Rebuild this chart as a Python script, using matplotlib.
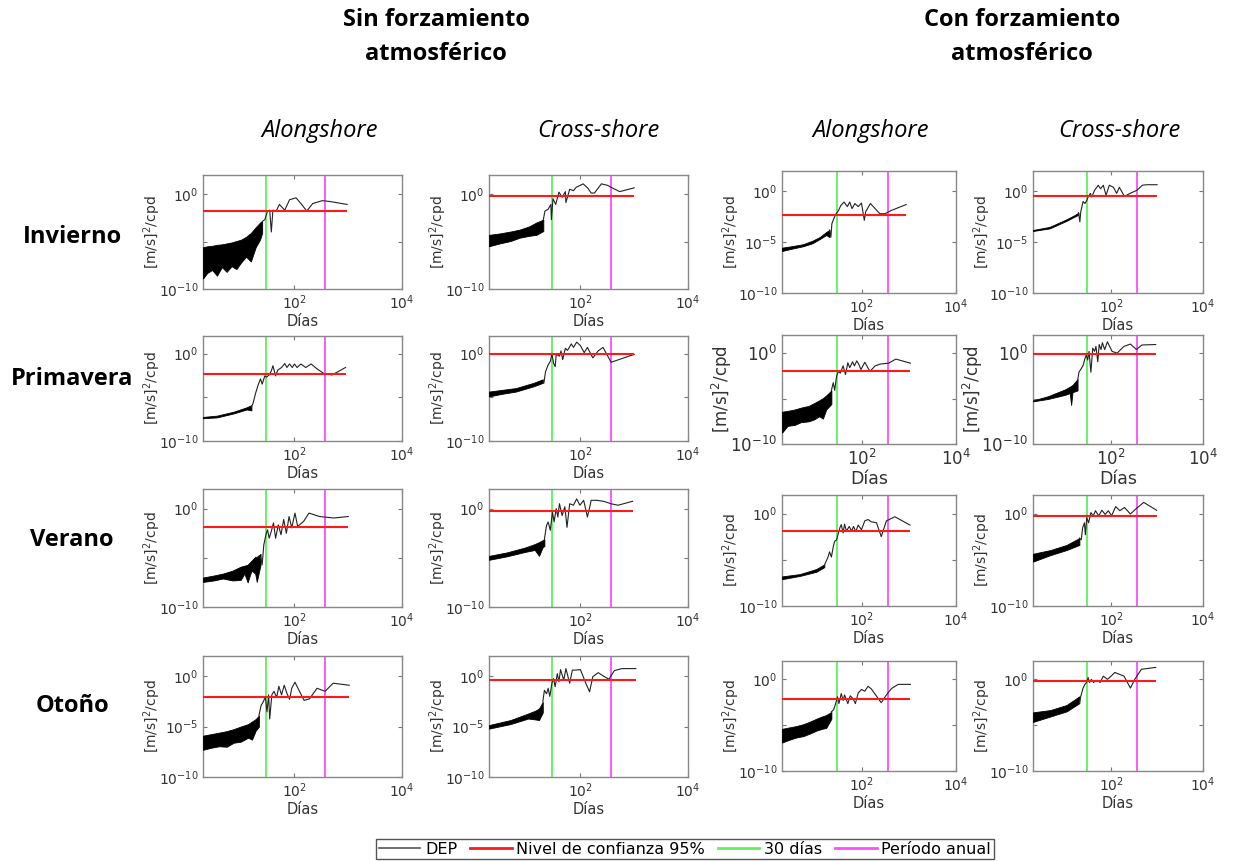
import numpy as np
import matplotlib.pyplot as plt
from matplotlib.lines import Line2D
from matplotlib.ticker import NullLocator

plt.rcParams['font.family'] = ['DejaVu Sans']

# Spectra, all values are log10.
# band_* = [log10(period), upper, lower] of the dense short-period band
# line_* = [log10(period), log10(PSD)] of the long-period part
# panel naming: row (1 Invierno .. 4 Otono), col (1,2 sin forzamiento; 3,4 con)

band_11 = [[0.30, 0.38, 0.47, 0.56, 0.65, 0.74, 0.83, 0.92, 1.01, 1.10, 1.19, 1.28, 1.36, 1.40],
           [-5.6, -5.5, -5.45, -5.35, -5.3, -5.2, -5.1, -4.95, -4.8, -4.5, -4.1, -3.5, -3.0, -2.9],
           [-8.9, -8.3, -8.0, -8.6, -7.7, -8.2, -7.6, -7.9, -7.2, -6.6, -7.1, -5.6, -4.8, -4.1]]
line_11 = [[1.40, 1.45, 1.50, 1.54, 1.57, 1.60, 1.66, 1.72, 1.82, 1.91, 2.03, 2.12, 2.23, 2.34, 2.52, 2.67, 2.98],
           [-2.9, -2.7, -1.8, -1.7, -4.0, -1.7, -1.8, -1.1, -1.7, -0.6, -0.4, -1.0, -1.8, -1.0, -0.7, -0.8, -1.1]]

band_12 = [[0.30, 0.50, 0.70, 0.87, 1.05, 1.18, 1.31],
           [-4.3, -4.15, -3.95, -3.75, -3.4, -3.0, -2.7],
           [-5.5, -5.2, -4.95, -4.6, -4.4, -4.3, -3.9]]
line_12 = [[1.31, 1.34, 1.40, 1.45, 1.46, 1.49, 1.54, 1.60, 1.66, 1.72, 1.73, 1.80, 1.87, 1.92, 2.05, 2.14, 2.20,
            2.26, 2.39, 2.51, 2.57, 2.73, 3.0],
           [-2.7, -1.8, -1.6, -1.1, -2.7, -0.5, -1.1, 0.2, -0.35, 0.25, -0.9, 0.5, 0.35, 0.7, 1.07, 0.6, 0.1,
            0.1, 1.07, 0.9, 0.7, 0.25, 0.65]]

band_13 = [[0.30, 0.50, 0.75, 0.95, 1.10, 1.24, 1.31],
           [-5.54, -5.4, -5.2, -4.85, -4.5, -4.0, -3.8],
           [-5.87, -5.65, -5.4, -5.1, -4.7, -4.3, -4.5]]
line_13 = [[1.31, 1.34, 1.36, 1.40, 1.45, 1.50, 1.55, 1.62, 1.69, 1.74, 1.79, 1.85, 1.92, 1.99, 2.05, 2.08, 2.18,
            2.28, 2.38, 2.49, 2.63, 2.94],
           [-3.8, -4.5, -3.2, -2.7, -2.2, -1.9, -1.4, -1.05, -1.5, -1.05, -1.7, -1.2, -1.5, -1.15, -2.85, -2.0, -1.2,
            -1.7, -2.2, -2.2, -1.87, -1.3]]

band_14 = [[0.30, 0.66, 1.03, 1.20, 1.29],
           [-3.8, -3.5, -2.75, -2.35, -2.1],
           [-3.9, -3.65, -2.9, -2.5, -2.3]]
line_14 = [[1.29, 1.32, 1.34, 1.39, 1.43, 1.47, 1.50, 1.55, 1.58, 1.64, 1.72, 1.77, 1.83, 1.89, 1.96, 2.05, 2.12,
            2.18, 2.29, 2.39, 2.56, 2.68, 2.78, 3.0],
           [-2.1, -3.0, -2.0, -1.0, -1.2, -0.9, -0.55, -0.2, -0.55, 0.1, 0.6, 0.25, 0.6, -0.4, 0.6, 0.4, -0.2,
            0.4, -0.5, -0.25, 0.1, 0.6, 0.65, 0.65]]

band_21 = [[0.30, 0.56, 0.87, 1.11, 1.20],
           [-7.25, -7.1, -6.65, -6.15, -5.9],
           [-7.4, -7.3, -6.85, -6.4, -6.5]]
line_21 = [[1.20, 1.23, 1.28, 1.33, 1.37, 1.40, 1.45, 1.48, 1.53, 1.57, 1.60, 1.65, 1.69, 1.76, 1.82, 1.86, 1.91,
            1.96, 2.0, 2.05, 2.12, 2.21, 2.31, 2.43, 2.55, 2.70, 2.95],
           [-6.1, -5.7, -4.5, -3.5, -2.9, -3.5, -2.55, -2.7, -2.45, -2.0, -1.4, -2.55, -1.9, -1.6, -1.15, -1.6, -1.2,
            -1.6, -1.2, -1.6, -1.2, -1.6, -1.2, -1.8, -2.3, -2.45, -1.6]]

band_22 = [[0.30, 0.55, 0.80, 1.13, 1.30],
           [-4.35, -4.15, -3.95, -3.35, -2.95],
           [-4.9, -4.6, -4.35, -3.75, -3.35]]
line_22 = [[1.30, 1.32, 1.35, 1.40, 1.44, 1.47, 1.50, 1.53, 1.55, 1.61, 1.64, 1.67, 1.72, 1.76, 1.83, 1.87, 1.93,
            2.0, 2.07, 2.13, 2.23, 2.33, 2.42, 2.57, 3.0],
           [-3.35, -3.4, -2.1, -1.3, -0.9, -0.05, -1.1, -1.5, -0.1, -0.3, 0.3, -0.7, 0.6, 0.35, 1.1, 0.7, 1.3,
            0.9, 0.1, 0.7, -0.5, 0.3, 0.7, -1.0, -0.1]]

band_23 = [[0.30, 0.42, 0.57, 0.70, 0.87, 0.98, 1.09, 1.17, 1.24, 1.35],
           [-6.45, -6.35, -6.2, -6.0, -5.8, -5.5, -5.2, -4.95, -4.65, -4.1],
           [-8.75, -8.0, -7.9, -7.6, -7.5, -7.3, -6.95, -7.2, -6.2, -5.6]]
line_23 = [[1.35, 1.39, 1.42, 1.46, 1.50, 1.54, 1.60, 1.65, 1.70, 1.74, 1.80, 1.84, 1.89, 1.93, 1.98, 2.06, 2.17,
            2.28, 2.39, 2.57, 2.72, 3.03],
           [-4.1, -3.25, -4.1, -2.55, -2.0, -2.2, -1.4, -2.35, -1.05, -1.6, -0.95, -1.4, -0.85, -1.2, -1.8, -1.0, -2.0,
            -1.4, -1.2, -1.1, -0.65, -1.1]]

band_24 = [[0.30, 0.62, 0.99, 1.10, 1.13, 1.16, 1.27],
           [-5.2, -4.75, -4.0, -3.7, -3.6, -3.5, -2.85],
           [-5.3, -5.05, -4.6, -4.4, -5.7, -4.3, -4.1]]
line_24 = [[1.27, 1.30, 1.35, 1.39, 1.43, 1.46, 1.49, 1.52, 1.56, 1.60, 1.64, 1.67, 1.71, 1.74, 1.78, 1.81, 1.86,
            1.92, 2.02, 2.13, 2.28, 2.42, 2.55, 2.67, 2.97],
           [-3.05, -2.1, -1.7, -1.35, -0.6, -0.2, -0.75, 0.2, -2.1, 0.55, 0.2, 0.75, -0.95, 0.95, 0.4, 1.15, 0.4,
            1.25, 0.2, 0.0, 0.75, 1.0, 0.4, 0.9, 0.95]]

band_31 = [[0.30, 0.50, 0.67, 0.85, 1.00, 1.07, 1.13, 1.20, 1.27, 1.30, 1.37],
           [-7.0, -6.8, -6.6, -6.3, -5.9, -5.8, -5.7, -5.3, -4.9, -4.9, -4.6],
           [-7.45, -7.3, -7.1, -7.3, -7.25, -6.6, -7.5, -6.3, -6.6, -7.45, -5.7]]
line_31 = [[1.37, 1.40, 1.43, 1.47, 1.50, 1.53, 1.57, 1.61, 1.65, 1.70, 1.75, 1.80, 1.85, 1.90, 1.95, 2.01, 2.06,
            2.17, 2.27, 2.47, 2.73, 3.0],
           [-4.9, -5.7, -3.7, -2.65, -2.15, -3.0, -2.3, -1.45, -3.0, -1.65, -2.65, -1.1, -2.5, -0.8, -1.95, -0.45, -1.8,
            -1.3, -0.45, -0.8, -0.95, -0.8]]

band_32 = [[0.30, 0.63, 0.97, 1.15, 1.23, 1.30, 1.33],
           [-4.8, -4.45, -3.95, -3.6, -3.4, -3.2, -3.1],
           [-5.2, -4.85, -4.4, -4.2, -4.8, -3.9, -3.8]]
line_32 = [[1.33, 1.37, 1.40, 1.44, 1.48, 1.51, 1.55, 1.58, 1.61, 1.66, 1.71, 1.75, 1.80, 1.87, 1.93, 1.99, 2.06,
            2.13, 2.20, 2.30, 2.43, 2.57, 2.70, 2.97],
           [-3.1, -1.7, -1.35, -2.2, -0.35, -1.35, 0.0, -0.85, 0.5, -0.7, 0.2, -1.9, 0.5, 0.35, 1.0, 0.35, 0.85,
            -0.85, 0.85, 0.85, 0.75, 0.5, 0.35, 0.75]]

band_33 = [[0.30, 0.68, 1.03, 1.20],
           [-6.8, -6.55, -6.0, -5.5],
           [-7.1, -6.75, -6.3, -5.8]]
line_33 = [[1.20, 1.28, 1.31, 1.35, 1.39, 1.42, 1.46, 1.49, 1.53, 1.56, 1.60, 1.63, 1.67, 1.73, 1.78, 1.82, 1.87,
            1.92, 1.99, 2.06, 2.13, 2.20, 2.31, 2.41, 2.52, 2.70, 3.02],
           [-5.6, -4.7, -4.15, -4.7, -3.6, -3.0, -2.85, -2.3, -1.55, -1.2, -2.1, -1.15, -1.9, -1.4, -1.9, -1.4, -1.95,
            -1.25, -1.75, -0.8, -0.65, -0.9, -1.0, -2.5, -0.8, -0.35, -1.25]]

band_34 = [[0.30, 0.68, 1.03, 1.31],
           [-4.35, -3.95, -3.4, -2.65],
           [-5.2, -4.5, -3.95, -3.4]]
line_34 = [[1.31, 1.35, 1.38, 1.42, 1.44, 1.47, 1.51, 1.56, 1.61, 1.66, 1.73, 1.80, 1.87, 1.94, 2.01, 2.10, 2.19,
            2.29, 2.42, 2.54, 2.71, 2.99],
           [-2.65, -2.85, -1.55, -1.0, -2.3, -0.45, -1.0, 0.1, -0.25, 0.3, -0.25, 0.35, -0.1, 0.3, -0.25, 0.75, 0.3,
            0.65, -0.05, 0.5, 1.2, 0.35]]

band_41 = [[0.30, 0.45, 0.60, 0.74, 0.87, 1.00, 1.14, 1.21, 1.28, 1.34],
           [-5.9, -5.75, -5.6, -5.45, -5.25, -5.0, -4.75, -4.5, -4.25, -3.9],
           [-7.3, -7.1, -6.95, -7.0, -6.6, -6.5, -6.1, -6.3, -5.4, -5.0]]
line_41 = [[1.34, 1.38, 1.42, 1.46, 1.49, 1.52, 1.54, 1.58, 1.62, 1.67, 1.71, 1.76, 1.81, 1.86, 1.91, 1.95, 2.01,
            2.08, 2.18, 2.28, 2.42, 2.57, 2.72, 3.02],
           [-3.9, -2.9, -2.55, -2.05, -3.55, -1.85, -4.25, -1.85, -1.5, -2.1, -1.0, -1.85, -0.9, -1.7, -2.3, -1.2, -0.6,
            -1.35, -2.4, -2.25, -1.2, -1.5, -0.7, -0.9]]

band_42 = [[0.30, 0.70, 1.03, 1.17, 1.23, 1.30],
           [-4.85, -4.35, -3.7, -3.4, -3.2, -2.55],
           [-5.2, -4.75, -4.2, -4.3, -4.35, -3.6]]
line_42 = [[1.30, 1.33, 1.37, 1.40, 1.43, 1.47, 1.50, 1.53, 1.57, 1.60, 1.63, 1.69, 1.73, 1.80, 1.85, 1.91, 2.00,
            2.10, 2.17, 2.23, 2.33, 2.43, 2.53, 2.63, 2.77, 3.03],
           [-2.55, -1.4, -1.75, -1.2, -2.0, -0.7, -0.25, -1.05, 0.25, -0.55, 0.65, -0.4, 0.75, -0.7, 0.6, 0.6, 0.65,
            -0.7, -1.55, -0.05, 0.35, 0.0, -0.3, 0.55, 0.75, 0.75]]

band_43 = [[0.30, 0.45, 0.60, 0.75, 0.90, 1.03, 1.15, 1.24, 1.35],
           [-5.4, -5.25, -5.1, -4.9, -4.6, -4.3, -4.05, -3.9, -3.55],
           [-6.9, -6.6, -6.35, -6.2, -5.9, -5.6, -5.4, -5.3, -4.3]]
line_43 = [[1.35, 1.40, 1.44, 1.48, 1.51, 1.56, 1.60, 1.63, 1.70, 1.75, 1.81, 1.86, 1.92, 1.99, 2.06, 2.13, 2.20,
            2.27, 2.41, 2.52, 2.63, 2.77, 3.03],
           [-3.55, -3.3, -2.65, -1.9, -2.65, -1.55, -2.3, -1.7, -2.65, -1.8, -2.1, -2.65, -1.5, -1.1, -1.3, -0.75, -1.05,
            -1.55, -2.55, -1.7, -1.0, -0.55, -0.55]]

band_44 = [[0.30, 0.68, 1.03, 1.31],
           [-3.6, -3.35, -2.8, -1.85],
           [-4.65, -4.05, -3.5, -2.6]]
line_44 = [[1.31, 1.34, 1.39, 1.43, 1.47, 1.50, 1.53, 1.57, 1.62, 1.65, 1.71, 1.76, 1.83, 1.92, 2.00, 2.08, 2.18,
            2.28, 2.42, 2.52, 2.66, 2.97],
           [-2.6, -1.85, -0.95, -0.55, -0.3, 0.2, -0.35, 0.0, -0.35, -0.2, -0.1, -0.35, 0.35, 0.0, 0.35, 0.75, 0.55,
            0.35, -0.95, 0.05, 1.1, 1.3]]

# 95% confidence level (log10) per row/col
conf_level = [[-1.84, -0.25, -2.3, -0.5],
              [-2.37, -0.1, -2.0, -0.08],
              [-1.9, -0.27, -1.93, -0.3],
              [-2.03, -0.4, -2.17, -0.2]]

# panels where the 10^-5 label is printed
show_m5 = [[False, False, True, True],
           [False, False, False, False],
           [False, False, False, False],
           [True, True, False, False]]

bands = [[band_11, band_12, band_13, band_14], [band_21, band_22, band_23, band_24],
         [band_31, band_32, band_33, band_34], [band_41, band_42, band_43, band_44]]
lines = [[line_11, line_12, line_13, line_14], [line_21, line_22, line_23, line_24],
         [line_31, line_32, line_33, line_34], [line_41, line_42, line_43, line_44]]

row_names = ['Invierno', 'Primavera', 'Verano', 'Otoño']
col_names = ['Alongshore', 'Cross-shore', 'Alongshore', 'Cross-shore']
group_names = ['Sin forzamiento\natmosférico', 'Con forzamiento\natmosférico']
legend_names = ['DEP', 'Nivel de confianza 95%', '30 días', 'Período anual']

T_MONTH = 30
T_YEAR = 365

W, H = 1237, 861
fig = plt.figure(figsize=(W / 100, H / 100), dpi=100)

# axes boxes in pixels
col_x = [(203, 402), (489, 688), (782, 956), (1033, 1203)]
row_y_left = [(175, 289), (336, 441), (489, 607), (656, 777)]
row_y_right = [(171, 293), (335, 444), (495, 606), (661, 771)]

green = '#5cf25c'
magenta = '#ff4dff'
red = '#ff1a1a'

for r in range(4):
    for c in range(4):
        x0, x1 = col_x[c]
        y0, y1 = row_y_left[r] if c < 2 else row_y_right[r]
        ax = fig.add_axes([x0 / W, 1 - y1 / H, (x1 - x0) / W, (y1 - y0) / H])
        fs = 12 if (r == 1 and c >= 2) else 10

        b = np.array(bands[r][c])
        ln = np.array(lines[r][c])
        ax.fill_between(10 ** b[0], 10 ** b[2], 10 ** b[1], color='black', linewidth=0.6, zorder=3)
        ax.plot(10 ** ln[0], 10 ** ln[1], color='#222222', lw=0.8, zorder=3)
        ax.hlines(10 ** conf_level[r][c], 10 ** b[0][0], 10 ** ln[0][-1], color=red, lw=1.5, zorder=4)
        ax.axvline(T_MONTH, color=green, lw=1.3, zorder=2)
        ax.axvline(T_YEAR, color=magenta, lw=1.3, zorder=2)

        ax.set_xscale('log')
        ax.set_yscale('log')
        ax.set_xlim(10 ** 0.3, 1e4)
        ax.set_ylim(1e-10, 1e2)
        ax.set_xticks([1e2, 1e4])
        ax.set_xticklabels(['$10^{2}$', '$10^{4}$'])
        ax.set_yticks([1e-10, 1e-5, 1e0])
        ax.set_yticklabels(['$10^{-10}$', '$10^{-5}$' if show_m5[r][c] else '', '$10^{0}$'])
        ax.xaxis.set_minor_locator(NullLocator())
        ax.yaxis.set_minor_locator(NullLocator())
        ax.tick_params(direction='in', top=True, right=True, length=3, color='#777777',
                       labelcolor='#333333', labelsize=fs)
        for s in ax.spines.values():
            s.set_color('#888888')
            s.set_linewidth(1.0)
        ax.set_xlabel('Días', fontsize=fs + 0.5, color='#333333', labelpad=1)
        ax.set_ylabel('[m/s]$^2$/cpd', fontsize=fs, color='#333333', labelpad=-3)

# headers
for x, txt in zip([436, 1022], group_names):
    fig.text(x / W, 1 - 37 / H, txt, ha='center', va='center', fontsize=17, fontweight='bold',
             family='Open Sans', linespacing=1.5)
for x, txt in zip([320, 598, 871, 1119], col_names):
    fig.text(x / W, 1 - 131 / H, txt, ha='center', va='center', fontsize=17, fontstyle='italic',
             family='Open Sans')
for y, txt in zip([237, 379, 540, 706], row_names):
    fig.text(72 / W, 1 - y / H, txt, ha='center', va='center', fontsize=17, fontweight='bold',
             family='Open Sans')

handles = [Line2D([], [], color='#555555', lw=1.2), Line2D([], [], color=red, lw=2),
           Line2D([], [], color=green, lw=2), Line2D([], [], color=magenta, lw=2)]
leg = fig.legend(handles, legend_names, loc='center', bbox_to_anchor=(685 / W, 1 - 849 / H), ncol=4,
                 fontsize=11.5, handlelength=2.6, handletextpad=0.3, columnspacing=0.8, borderpad=0.15,
                 fancybox=False, framealpha=1)
leg.get_frame().set_edgecolor('#555555')
leg.get_frame().set_linewidth(1.0)

fig.savefig('out.png', dpi=100)
